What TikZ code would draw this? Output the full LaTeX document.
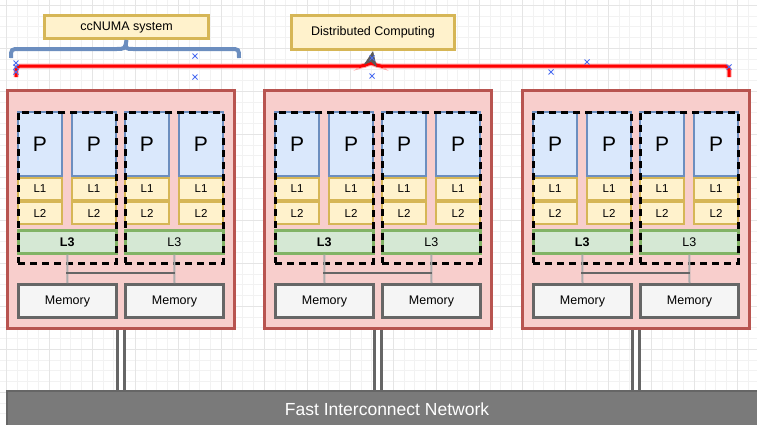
\documentclass[tikz,border=0pt]{standalone}
\usepackage{fontspec}
\setmainfont{Liberation Sans}
\usetikzlibrary{arrows.meta,positioning}
\definecolor{clfill}{HTML}{F8CECC}\definecolor{cldraw}{HTML}{B85450}
\definecolor{pfill}{HTML}{DAE8FC}\definecolor{pdraw}{HTML}{6C8EBF}
\definecolor{cfill}{HTML}{FFF2CC}\definecolor{cdraw}{HTML}{D6B656}
\definecolor{lfill}{HTML}{D5E8D4}\definecolor{ldraw}{HTML}{82B366}
\definecolor{mfill}{HTML}{F5F5F5}\definecolor{mdraw}{HTML}{666666}
\definecolor{netfill}{HTML}{7A7A7A}\definecolor{netdraw}{HTML}{666666}
\definecolor{xblue}{HTML}{4A6CF0}

\begin{document}
\begin{tikzpicture}[x=1pt,y=-1pt,>=Latex,every node/.style={font=\fontsize{12.5}{14}\selectfont},
cellbox/.style={draw,anchor=north west,inner sep=0pt,line width=2pt},
cluster/.style={cellbox,fill=clfill,draw=cldraw,line width=2.5pt,minimum width=227pt,minimum height=238pt},
core/.style={cellbox,fill=pfill,draw=pdraw,minimum width=44pt,minimum height=64pt,font=\fontsize{21}{21}\selectfont},
cache/.style={cellbox,fill=cfill,draw=cdraw,minimum width=44pt,minimum height=22pt,font=\fontsize{11.5}{12}\selectfont},
lthree/.style={cellbox,fill=lfill,draw=ldraw,line width=2.5pt,minimum width=98pt,minimum height=23pt},
memory/.style={cellbox,fill=mfill,draw=mdraw,line width=3pt,minimum width=98pt,minimum height=33pt},
dashgroup/.style={cellbox,draw=black,line width=2.5pt,dash pattern=on 7pt off 5pt,minimum width=98pt,minimum height=151pt},
tag/.style={cellbox,fill=cfill,draw=cdraw,line width=3pt,minimum width=164pt},
riser/.style={line width=2pt,draw=black!32},
bus/.style={line width=2.5pt,draw=black!60},
link/.style={double=white,double distance=4.5pt,line width=2.5pt,draw=black!60},
xmark/.style={draw=xblue,line width=0.8pt}]
\useasboundingbox (0,0) rectangle (757,424);
% background grid
\draw[black!5,step=10.75pt,shift={(6,5)}] (-6,-5) grid (751,419);
\draw[black!10,step=43pt,shift={(6,5)}] (-6,-5) grid (751,419);
\node[cellbox,fill=netfill,draw=netdraw,minimum width=760pt,minimum height=36pt,text=white,font=\fontsize{17.5}{18}\selectfont] (net) at (6,390) {Fast Interconnect Network};
% top labels
\node[tag,minimum height=23pt] (numa) at (43,14) {ccNUMA system};
\node[tag,minimum width=163pt,minimum height=34pt] (dist) at (290,14) {Distributed Computing};
\draw[pdraw,line width=4pt] (11,58) .. controls (11,49) .. (20,49) -- (116,49) .. controls (125,49) .. (numa.south) .. controls (125,49) .. (134,49) -- (230,49) .. controls (239,49) .. (239,58);
\coordinate (peak) at (371,62);
\draw[red!35,line width=5pt,rounded corners=4pt] (16,77) -- (16,66) -- (365,66) -- (peak) -- (377,66) -- (729,66) -- (729,77);
\draw[red,line width=3pt,rounded corners=4pt] (16,77) -- (16,66) -- (365,66) -- (peak) -- (377,66) -- (729,66) -- (729,77);
\draw[-{Stealth[length=15pt,width=13pt,inset=4pt]},black!65,line width=0.5pt] (peak) -- (dist.south);
% the three nodes of the cluster
\foreach \c/\dx in {1/0,2/257,3/515}{
\begin{scope}[xshift=\dx]
\node[cluster] (cl\c) at (6,89) {};
\foreach \k/\px in {1/17,2/71,3/124,4/178}{
\node[core] (p\c-\k) at (\px,111) {P};
\node[cache,below=0pt of p\c-\k] (la\c-\k) {L1};
\node[cache,below=0pt of la\c-\k] (lb\c-\k) {L2};
}
\node[lthree] (lt\c-1) at (17,229) {\textbf{L3}};\node[lthree] (lt\c-2) at (124,229) {L3};
\node[dashgroup] (g\c-1) at (17,111) {};\node[dashgroup] (g\c-2) at (124,111) {};
\node[memory] (m\c-1) at (17,283) {Memory};\node[memory] (m\c-2) at (124,283) {Memory};
\draw[riser] (lt\c-1.south) -- (m\c-1.north);\draw[riser] (lt\c-2.south) -- (m\c-2.north);
\coordinate (b\c) at (66,273);\draw[bus] (b\c) -- (b\c -| m\c-2.north);
\draw[link] (cl\c.south) -- (cl\c.south |- net.north);
\end{scope}
}
% selection handles
\foreach \p in {(16,63),(16,67),(16,72),(195,56),(195,77),(372,58),(372,76),(551,72),(587,62),(729,67)}
\draw[xmark] \p ++(-2.5,-2.5) -- ++(5,5) ++(-5,0) -- ++(5,-5);
\end{tikzpicture}
\end{document}
